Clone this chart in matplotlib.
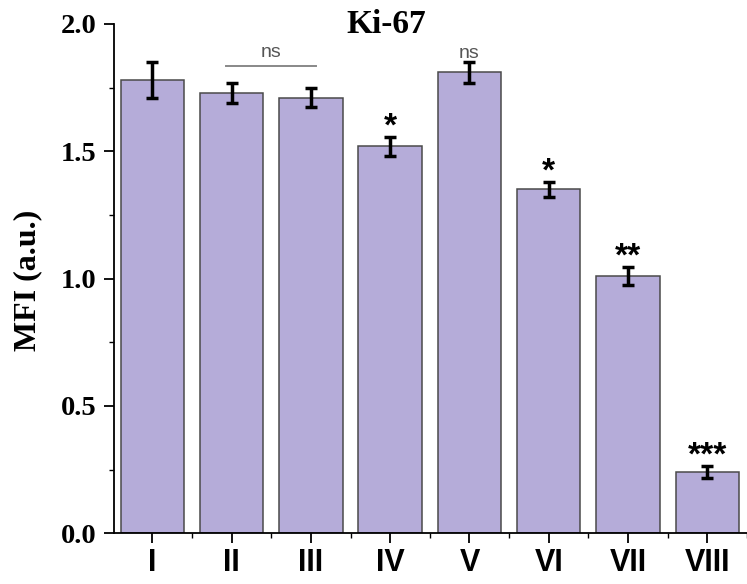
import numpy as np
import matplotlib.pyplot as plt
from matplotlib.ticker import MultipleLocator

groups = ['I', 'II', 'III', 'IV', 'V', 'VI', 'VII', 'VIII']
mfi = [1.78, 1.73, 1.71, 1.52, 1.81, 1.35, 1.01, 0.24]
err = [0.07, 0.04, 0.037, 0.037, 0.04, 0.028, 0.035, 0.025]
stars = ['', '', '', '*', 'ns', '*', '**', '***']

BAR_COLOR = '#b5acd9'
SERIF = ['Liberation Serif', 'DejaVu Serif']
NARROW = ['Liberation Sans Narrow', 'Liberation Sans', 'DejaVu Sans']
SANS = ['Liberation Sans', 'DejaVu Sans']

fig = plt.figure(figsize=(7.47, 5.84), dpi=100)
ax = fig.add_axes([0.153, 0.087, 0.847, 0.872])

x = np.arange(1, len(groups) + 1)
ax.bar(x, mfi, width=0.8, color=BAR_COLOR, edgecolor='#4a4a4a', linewidth=1.1, zorder=2)
ax.errorbar(x, mfi, yerr=err, fmt='none', ecolor='black', elinewidth=2.5,
            capsize=4.5, capthick=2.5, zorder=3)

# significance marks
for xi, m, e, s in zip(x, mfi, err, stars):
    if not s:
        continue
    if s == 'ns':
        ax.text(xi, m + e, s, ha='center', va='bottom', fontsize=14,
                color='#555555', family=SANS)
    else:
        ax.text(xi, m + e + 0.005, s, ha='center', va='baseline', fontsize=24,
                fontweight='bold', color='black', family=SANS)
# bracket over II-III
ax.plot([1.93, 3.07], [1.835, 1.835], color='#888888', lw=1.4, zorder=3)
ax.text(2.5, 1.87, 'ns', ha='center', va='baseline', fontsize=14, color='#555555', family=SANS)

ax.set_xlim(0.52, 8.5)
ax.set_ylim(0, 2.0)
ax.set_xticks(x)
ax.set_xticklabels(groups, fontsize=22, fontweight='bold', family=NARROW)
ax.xaxis.set_minor_locator(MultipleLocator(1, offset=0.5))
ax.yaxis.set_major_locator(MultipleLocator(0.5))
ax.yaxis.set_minor_locator(MultipleLocator(0.25))
ax.tick_params(axis='both', which='major', direction='out', length=7, width=1.3)
ax.tick_params(axis='y', which='major', pad=6)
ax.tick_params(axis='both', which='minor', direction='out', length=3.5, width=1.0)
for lab in ax.get_yticklabels():
    lab.set_fontsize(20.5)
    lab.set_fontweight('bold')
    lab.set_family(SERIF)

ax.spines['top'].set_visible(False)
ax.spines['right'].set_visible(False)
ax.spines['left'].set_linewidth(1.3)
ax.spines['bottom'].set_linewidth(1.3)

ax.set_ylabel('MFI (a.u.)', fontsize=23, fontweight='bold', family=SERIF)
ax.yaxis.set_label_coords(-0.114, 0.497)
ax.text(0.43, 1.03, 'Ki-67', transform=ax.transAxes, ha='center', va='top',
        fontsize=24, fontweight='bold', family=SERIF)

fig.savefig('out.png', dpi=100)
